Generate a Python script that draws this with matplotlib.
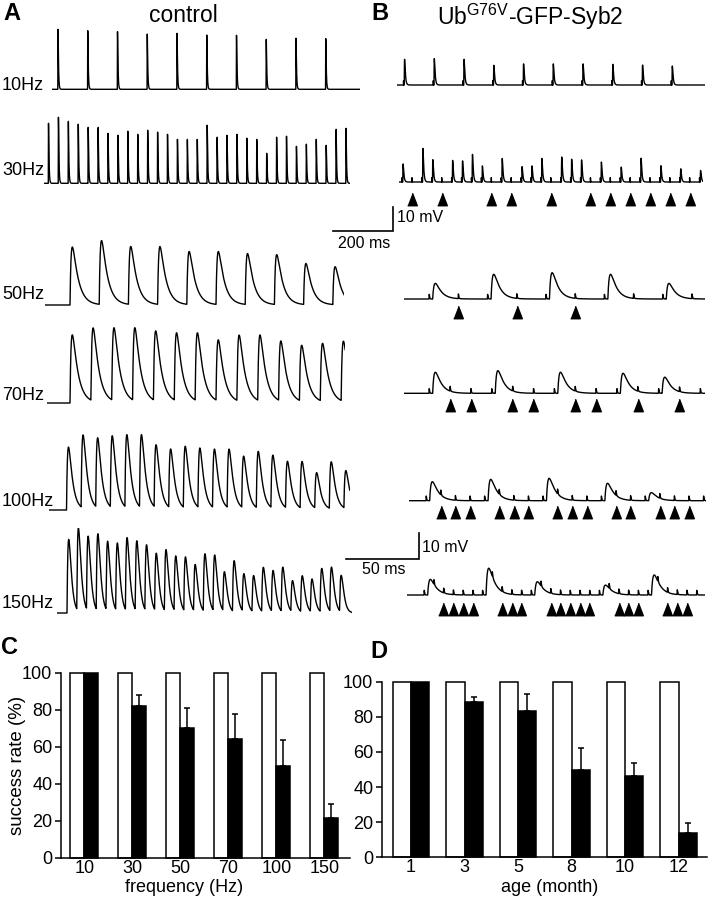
import numpy as np
import matplotlib
matplotlib.use("Agg")
import matplotlib.pyplot as plt

plt.rcParams['font.family'] = ['Liberation Sans', 'DejaVu Sans']
plt.rcParams['mathtext.fontset'] = 'custom'
plt.rcParams['mathtext.rm'] = 'Liberation Sans'

# ---- trace data (amplitudes in mV) ----
ctrl_amp_10 = [25.0, 24.4, 24.0, 23.0, 23.3, 22.6, 22.5, 20.8, 21.3, 21.1]
ctrl_amp_30 = [25.0, 27.5, 25.8, 24.6, 23.3, 23.3, 20.8, 20.0, 21.7, 20.4, 22.1,
               21.3, 20.4, 18.3, 18.3, 18.3, 24.2, 19.2, 20.0, 20.4, 18.8, 18.3,
               12.5, 19.2, 19.6, 15.4, 16.3, 18.3, 15.8, 22.5, 22.9]
ctrl_amp_50 = [22.3, 24.6, 22.3, 22.3, 20.4, 20.4, 19.6, 19.2, 15.8, 14.6]
ctrl_amp_70 = [26.2, 28.1, 28.1, 28.1, 26.9, 26.2, 26.2, 23.5, 25.4, 25.4, 23.1,
               21.5, 22.3, 23.1]
ctrl_amp_100 = [24.2, 28.1, 26.9, 27.7, 28.1, 28.1, 24.2, 22.7, 23.8, 23.1, 22.7,
                22.7, 20.0, 21.9, 20.4, 18.1, 18.1, 13.8, 18.1, 14.6]
ctrl_amp_150 = [28.3, 31.9, 28.7, 29.7, 26.8, 26.2, 28.3, 27.0, 25.5, 22.3, 23.8,
                21.3, 21.0, 18.1, 22.3, 21.7, 15.3, 19.7, 14.6, 14.0, 17.2, 15.9,
                17.2, 12.0, 14.0, 12.7, 16.8, 17.2, 14.0]

ub_n = {10: 10, 30: 31, 50: 10, 70: 14, 100: 20, 150: 29}
ub_succ = {
    10: list(range(10)),
    30: [0, 2, 3, 5, 6, 7, 8, 10, 12, 13, 14, 16, 17, 18, 20, 22, 24, 26, 28, 30],
    50: [0, 2, 4, 6, 8],
    70: [0, 3, 6, 9, 11],
    100: [0, 4, 8, 12, 15],
    150: [0, 6, 11, 18, 23],
}
ub_amp = {
    10: [10.7, 11.0, 10.7, 8.2, 8.8, 8.8, 8.8, 8.6, 8.3, 7.9],
    30: [7.5, 14.0, 9.3, 9.0, 8.8, 11.5, 6.7, 9.8, 6.4, 6.7, 9.8, 10.4, 9.5,
         9.2, 8.3, 6.2, 9.9, 6.8, 5.5, 4.8],
    50: [6.0, 9.5, 10.1, 9.5, 6.0],
    70: [8.1, 8.7, 8.1, 7.7, 6.2],
    100: [7.3, 8.2, 8.6, 6.7, 3.1],
    150: [6.0, 10.3, 5.1, 3.8, 7.7],
}
ub_arrows = {
    10: [],
    30: [1, 4, 9, 11, 15, 19, 21, 23, 25, 27, 29],
    50: [1, 3, 5],
    70: [1, 2, 4, 5, 7, 8, 10, 12],
    100: [1, 2, 3, 5, 6, 7, 9, 10, 11, 13, 14, 16, 17, 18],
    150: [2, 3, 4, 5, 8, 9, 10, 13, 14, 15, 16, 17, 20, 21, 22, 25, 26, 27],
}

# ---- bar data ----
freq_labels = ['10', '30', '50', '70', '100', '150']
freq_ctrl = [100, 100, 100, 100, 100, 100]
freq_ub = [100, 82.2, 70.0, 64.2, 49.4, 21.5]
freq_ub_err = [0, 5.8, 11.0, 13.3, 14.4, 7.5]
age_labels = ['1', '3', '5', '8', '10', '12']
age_ctrl = [100, 100, 100, 100, 100, 100]
age_ub = [100, 88.3, 83.3, 49.7, 46.3, 13.7]
age_ub_err = [0, 2.8, 9.7, 12.7, 7.6, 5.7]

W, H = 708.0, 900.0
fig = plt.figure(figsize=(W / 100, H / 100), dpi=100)


def px_axes(x, y, w, h):
    return fig.add_axes([x / W, 1 - (y + h) / H, w / W, h / H])


def ftext(x, y, s, **kw):
    fig.text(x / W, 1 - y / H, s, **kw)


def kernel(t, tr, td):
    tp = np.log(td / tr) * tr * td / (td - tr)
    peak = np.exp(-tp / td) - np.exp(-tp / tr)
    tc = np.clip(t, 0, None)
    return np.where(t > 0, np.exp(-tc / td) - np.exp(-tc / tr), 0.0) / peak


TOP = (0.2975, 2.4)   # px per ms, px per mV
BOT = (1.46, 2.6)
DT = 0.02


def trace_axes(x0, base, t0, t1, scale, up=85, down=25):
    ppms, ppmv = scale
    ax = px_axes(x0 + t0 * ppms, base - up, (t1 - t0) * ppms, up + down)
    ax.set_xlim(t0, t1)
    ax.set_ylim(-down / ppmv, up / ppmv)
    ax.axis('off')
    return ax


# control traces: (freq, amps, stim x px, baseline px, t_pre, t_end, scale, tr, td)
ctrl_rows = [
    (10, ctrl_amp_10, 57.8, 89.3, -20, 1016, TOP, 0.4, 1.5),
    (30, ctrl_amp_30, 48.3, 183.3, -15, 1013, TOP, 0.4, 1.5),
    (50, ctrl_amp_50, 70, 305, -17, 188, BOT, 0.8, 4.0),
    (70, ctrl_amp_70, 70, 403, -15.8, 188.5, BOT, 0.8, 3.8),
    (100, ctrl_amp_100, 66.5, 510, -12, 194, BOT, 0.8, 2.6),
    (150, ctrl_amp_150, 67, 613, -7, 195, BOT, 1.0, 1.4),
]
label_y = {10: 90, 30: 175, 50: 299, 70: 400, 100: 506, 150: 608}

for f, amps, x0, base, t0, t1, sc, tr, td in ctrl_rows:
    ax = trace_axes(x0, base, t0, t1, sc)
    t = np.arange(t0, t1, DT)
    v = np.zeros_like(t)
    for i, a in enumerate(amps):
        v += a * kernel(t - i * 1000.0 / f, tr, td)
    ax.plot(t, v, color='black', lw=1.0)
    ftext(2, label_y[f], '%dHz' % f, fontsize=13, va='baseline', ha='left')

# Ub traces
arrow_marker = [(-0.5, -0.65), (0.5, -0.65), (0, 0.65)]
ub_rows = [
    (10, 403.5, 85, -22, 1012, TOP, 0.6, 2.5, 17),
    (30, 402, 182, -10, 1012, TOP, 0.6, 2.5, 17),
    (50, 429, 299, -17, 189, BOT, 1.0, 4.0, 13),
    (70, 429, 393.3, -17, 189, BOT, 1.0, 4.0, 12),
    (100, 426, 500.7, -11.6, 192, BOT, 1.0, 4.0, 11),
    (150, 424, 595, -11.8, 192.5, BOT, 1.0, 4.0, 14),
]
for f, x0, base, t0, t1, sc, tr, td, off in ub_rows:
    ax = trace_axes(x0, base, t0, t1, sc)
    t = np.arange(t0, t1, DT)
    stims = np.arange(ub_n[f]) * 1000.0 / f
    v = np.zeros_like(t)
    for s in stims:
        v += 1.8 * kernel(t - s, 0.1, 0.25)
    for i, a in zip(ub_succ[f], ub_amp[f]):
        v += a * kernel(t - stims[i] - 2.5, tr, td)
    ax.plot(t, v, color='black', lw=1.0)
    if ub_arrows[f]:
        ax.plot(stims[ub_arrows[f]], np.full(len(ub_arrows[f]), -off / sc[1]),
                ls='none', marker=arrow_marker, ms=9, color='black', clip_on=False)


# scale bars
def scale_bar(x_right, y_bottom, scale, ms, mv):
    ppms, ppmv = scale
    ax = px_axes(x_right - ms * ppms, y_bottom - mv * ppmv, ms * ppms, mv * ppmv)
    ax.set_xlim(-ms, 0)
    ax.set_ylim(0, mv)
    ax.axis('off')
    ax.plot([-ms, 0, 0], [0, 0, mv], color='black', lw=1.2, clip_on=False,
            solid_joinstyle='miter')


scale_bar(392.5, 231, TOP, 200, 10)
ftext(397, 217, '10 mV', fontsize=11.5, va='center', ha='left')
ftext(364, 243, '200 ms', fontsize=11.5, va='center', ha='center')
scale_bar(418.5, 559, BOT, 50, 10)
ftext(422, 547, '10 mV', fontsize=11.5, va='center', ha='left')
ftext(384, 569, '50 ms', fontsize=11.5, va='center', ha='center')

# titles and panel letters
ftext(183.5, 21.5, 'control', fontsize=16.5, ha='center', va='baseline')
ftext(530, 25, r'Ub$^{\mathrm{G76V}}$-GFP-Syb2', fontsize=16.5, ha='center',
      va='baseline')
for x, y, s in [(3, 14, 'A'), (371, 13, 'B'), (1, 648, 'C'), (370, 651, 'D')]:
    ftext(x, y, s, fontsize=17, fontweight='bold', ha='left', va='center')


# bar charts
def bar_panel(rect, ctrl, ub, err, labels, w, xlim, xlabel, xlab_x):
    ax = px_axes(*rect)
    x = np.arange(len(labels))
    ax.bar(x - w / 2, ctrl, w, color='white', edgecolor='black', lw=1.1, clip_on=False)
    ax.bar(x + w / 2, ub, w, color='black', edgecolor='black', lw=1.1, clip_on=False)
    xe = [xi + w / 2 for xi, e in zip(x, err) if e > 0]
    ye = [u for u, e in zip(ub, err) if e > 0]
    ee = [e for e in err if e > 0]
    ax.errorbar(xe, ye, yerr=[np.zeros(len(ee)), ee], fmt='none', ecolor='black',
                elinewidth=1.1, capsize=2.5, capthick=1.1)
    ax.set_xlim(*xlim)
    ax.set_ylim(0, 100)
    ax.set_xticks(x)
    ax.set_xticklabels(labels)
    ax.set_yticks([0, 20, 40, 60, 80, 100])
    ax.tick_params(axis='x', length=0, pad=1.5, labelsize=13)
    ax.tick_params(axis='y', length=4, width=1.1, pad=2, labelsize=13)
    for s in ['top', 'right']:
        ax.spines[s].set_visible(False)
    for s in ['left', 'bottom']:
        ax.spines[s].set_linewidth(1.1)
    ftext(xlab_x, 887, xlabel, fontsize=13, ha='center', va='center')
    return ax


bar_panel((60.7, 672.7, 289.3, 185), freq_ctrl, freq_ub, freq_ub_err, freq_labels,
          0.29, (-0.49, 5.535), 'frequency (Hz)', 184)
bar_panel((381.7, 681.7, 325, 175.6), age_ctrl, age_ub, age_ub_err, age_labels,
          0.342, (-0.548, 5.527), 'age (month)', 550)
ftext(18, 765, 'success rate (%)', fontsize=13.5, rotation=90, ha='center', va='center')

fig.savefig('out.png', dpi=100)
